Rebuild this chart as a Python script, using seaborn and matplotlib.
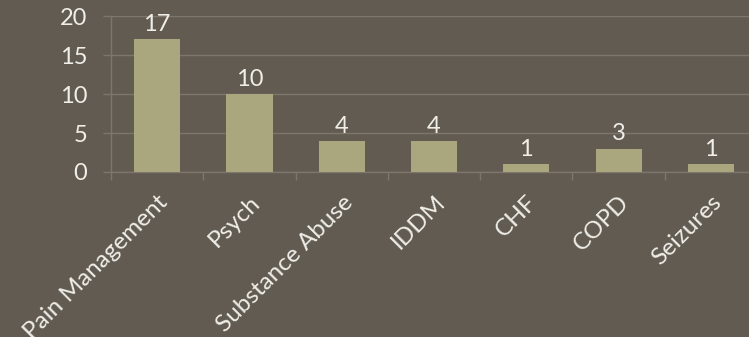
import matplotlib
matplotlib.use("Agg")
import matplotlib.pyplot as plt
import seaborn as sns
import pandas as pd
import numpy as np

categories = ["Pain Management", "Psych", "Substance Abuse", "IDDM", "CHF", "COPD", "Seizures"]
values = [17, 10, 4, 4, 1, 3, 1]
yticks = [0, 5, 10, 15, 20]

sns.set_style("white")
plt.rcParams['font.family'] = ['Lato', 'DejaVu Sans']

bg = "#615b51"
bar_color = "#aaa67d"
text_color = "#f0eee8"
grid_color = "#7d776b"

df = pd.DataFrame({"cat": categories, "val": values})

fig = plt.figure(figsize=(7.49, 3.37), dpi=100, facecolor=bg)
ax = fig.add_axes([111/749, (337-172)/337, (757-111)/749, (172-16)/337])
ax.set_facecolor(bg)

sns.barplot(data=df, x="cat", y="val", color=bar_color, width=0.5, saturation=1,
            linewidth=0, edgecolor="none", ax=ax, zorder=3)

ax.set_xlim(-0.5, len(categories) - 0.5)
ax.set_ylim(0, 20)
ax.set_yticks(yticks)
ax.set_yticklabels([str(t) for t in yticks])
ax.yaxis.grid(True, color=grid_color, linewidth=1)
ax.set_axisbelow(True)

for s in ["top", "right"]:
    ax.spines[s].set_visible(False)
for s in ["left", "bottom"]:
    ax.spines[s].set_color(grid_color)
    ax.spines[s].set_linewidth(1)

ax.tick_params(axis="y", colors=grid_color, labelcolor=text_color, labelsize=17,
               length=6, width=1, direction="out", pad=11, left=True)
ax.tick_params(axis="x", which="major", length=0, labelcolor=text_color, labelsize=17.5, pad=14)
ax.set_xticks(np.arange(len(categories) + 1) - 0.5, minor=True)
ax.tick_params(axis="x", which="minor", length=6, width=1, color=grid_color, bottom=True)

for lab in ax.get_xticklabels():
    lab.set_rotation(45)
    lab.set_ha("right")
    lab.set_va("top")
    lab.set_rotation_mode("anchor")

ax.set_xlabel("")
ax.set_ylabel("")

for i, v in enumerate(values):
    ax.annotate(str(v), (i, v), xytext=(0, 3), textcoords="offset points",
                ha="center", va="bottom", color=text_color, fontsize=17)

fig.savefig("out.png", dpi=100, facecolor=bg)
